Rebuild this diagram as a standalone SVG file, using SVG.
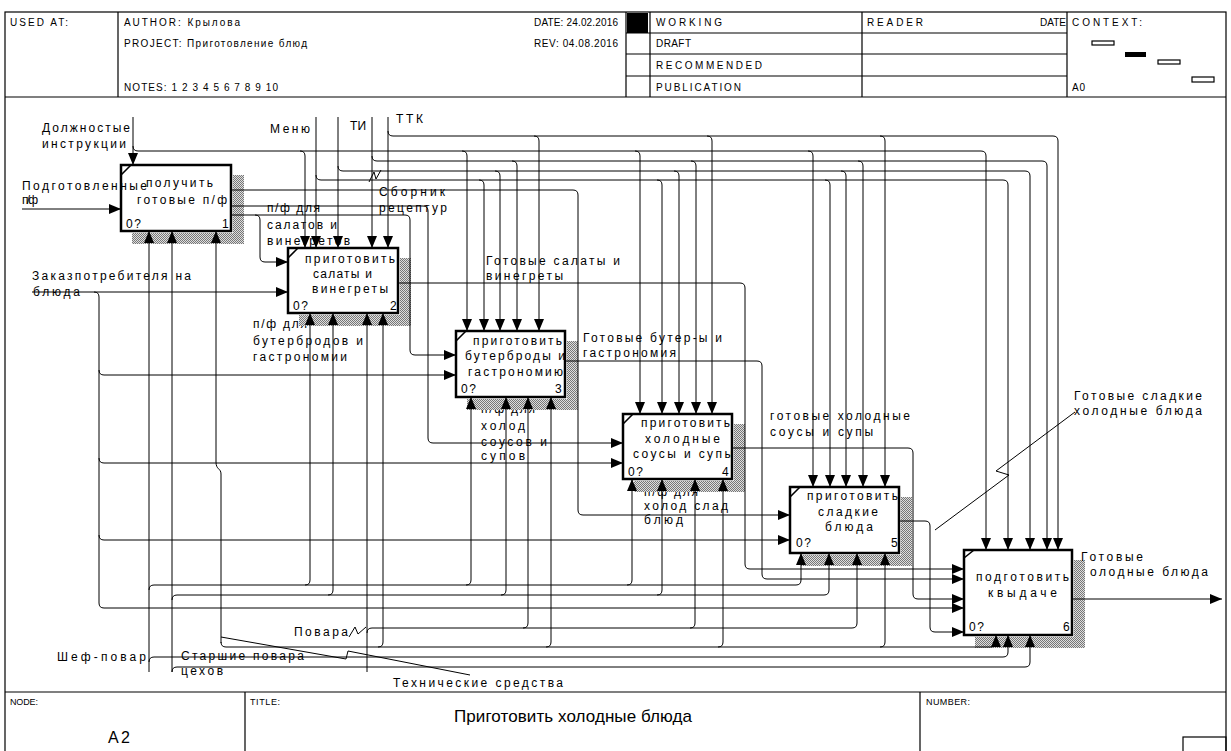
<svg xmlns="http://www.w3.org/2000/svg" width="1231" height="751" viewBox="0 0 1231 751">
<style>
.t{font-family:"Liberation Sans",Arial,sans-serif;font-size:12px;fill:#000}
.h{font-family:"Liberation Sans",Arial,sans-serif;font-size:10px;fill:#000}
.c{fill:none;stroke:#000;stroke-width:1}
.a{marker-end:url(#ah)}
.box{fill:#fff;stroke:#000;stroke-width:2.5}
.sh{fill:url(#hatch)}
.fr{fill:none;stroke:#000;stroke-width:1.2}
.dg{stroke:#000;stroke-width:1.6}
</style>
<defs>
<marker id="ah" markerUnits="userSpaceOnUse" markerWidth="13" markerHeight="10" refX="12" refY="5" orient="auto"><path d="M0,0 L12,5 L0,10 z" fill="#000"/></marker>
<pattern id="hatch" width="2" height="2" patternUnits="userSpaceOnUse"><rect width="2" height="2" fill="#dedede"/><rect width="1" height="1" fill="#777"/><rect x="1" y="1" width="1" height="1" fill="#777"/></pattern>
</defs>
<rect width="1231" height="751" fill="#fff"/>
<g id="frame">
<rect class="fr" x="5" y="12" width="1221" height="750"/>
<path class="fr" d="M5,97 H1226 M5,692 H1226 M118,12 V97 M626,12 V97 M650,12 V97 M862,12 V97 M1067,12 V97 M626,33 H1067 M626,54 H1067 M626,76 H1067 M245,692 V751 M920,692 V751"/>
<rect x="627" y="13" width="21" height="20" fill="#000"/>
<rect class="fr" x="1092" y="41" width="22" height="4"/>
<rect x="1125" y="52" width="21" height="5" fill="#000"/>
<rect class="fr" x="1158" y="60" width="22" height="4"/>
<rect class="fr" x="1192" y="77" width="22" height="5"/>
<rect class="fr" x="1183" y="737" width="43" height="20"/>
<text class="h" x="10" y="26" textLength="58">USED AT:</text>
<text class="h" x="124" y="26" textLength="116">AUTHOR: Крылова</text>
<text class="h" x="124" y="47" textLength="183">PROJECT: Приготовление блюд</text>
<text class="h" x="124" y="91" textLength="154">NOTES: 1 2 3 4 5 6 7 8 9 10</text>
<text class="h" x="534" y="26" textLength="84">DATE: 24.02.2016</text>
<text class="h" x="534" y="47" textLength="84">REV: 04.08.2016</text>
<text class="h" x="656" y="26" textLength="66">WORKING</text>
<text class="h" x="656" y="47" textLength="35">DRAFT</text>
<text class="h" x="656" y="69" textLength="106">RECOMMENDED</text>
<text class="h" x="656" y="91" textLength="85">PUBLICATION</text>
<text class="h" x="867" y="26" textLength="56">READER</text>
<text class="h" x="1040" y="26" textLength="26">DATE</text>
<text class="h" x="1072" y="26" textLength="70">CONTEXT:</text>
<text class="h" x="1072" y="91" textLength="13">A0</text>
<text class="h" x="10" y="705" style="font-size:9px" textLength="28">NODE:</text>
<text class="h" x="250" y="705" style="font-size:9px" textLength="30">TITLE:</text>
<text class="h" x="926" y="705" style="font-size:9px" textLength="44">NUMBER:</text>
<text class="h" x="108" y="743" style="font-size:16px" textLength="22">A2</text>
<text class="h" x="454" y="722" style="font-size:17px" textLength="238">Приготовить холодные блюда</text>
</g>
<g id="labels-under">
<text class="t" x="253" y="328" textLength="54">п/ф для</text>
<text class="t" x="481" y="413" textLength="54">п/ф для</text>
<text class="t" x="644" y="496" textLength="54">п/ф для</text>
<text class="t" x="1090" y="576" textLength="118">олодные блюда</text>
</g>
<g id="n1">
<path class="sh" d="M233,175 H244 V244 H132 V233 H233 Z"/>
<rect class="box" x="121" y="165" width="110" height="66"/>
<path class="dg" d="M121,175 L131,165"/>
<text class="t" x="146" y="187" textLength="67">получить</text>
<text class="t" x="137" y="204" textLength="90">готовые п/ф</text>
<text class="t" x="126" y="228" textLength="15">0?</text>
<text class="t" x="222" y="228">1</text>
</g>
<g id="n2">
<path class="sh" d="M400,258 H411 V326 H299 V315 H400 Z"/>
<rect class="box" x="288" y="248" width="110" height="65"/>
<path class="dg" d="M288,258 L298,248"/>
<text class="t" x="305" y="263" textLength="90">приготовить</text>
<text class="t" x="313" y="278" textLength="59">салаты и</text>
<text class="t" x="312" y="293" textLength="76">винегреты</text>
<text class="t" x="293" y="310" textLength="15">0?</text>
<text class="t" x="390" y="310">2</text>
</g>
<g id="n3">
<path class="sh" d="M567,341 H578 V410 H467 V399 H567 Z"/>
<rect class="box" x="456" y="331" width="109" height="66"/>
<path class="dg" d="M456,341 L466,331"/>
<text class="t" x="473" y="345" textLength="89">приготовить</text>
<text class="t" x="465" y="360" textLength="100">бутерброды и</text>
<text class="t" x="468" y="376" textLength="95">гастрономию</text>
<text class="t" x="461" y="393" textLength="15">0?</text>
<text class="t" x="555" y="393">3</text>
</g>
<g id="n4">
<path class="sh" d="M734,424 H745 V492 H634 V481 H734 Z"/>
<rect class="box" x="623" y="414" width="109" height="65"/>
<path class="dg" d="M623,424 L633,414"/>
<text class="t" x="641" y="427" textLength="89">приготовить</text>
<text class="t" x="645" y="443" textLength="75">холодные</text>
<text class="t" x="633" y="458" textLength="100">соусы и супы</text>
<text class="t" x="628" y="476" textLength="15">0?</text>
<text class="t" x="722" y="476">4</text>
</g>
<g id="n5">
<path class="sh" d="M901,497 H912 V566 H801 V555 H901 Z"/>
<rect class="box" x="790" y="487" width="109" height="66"/>
<path class="dg" d="M790,497 L800,487"/>
<text class="t" x="807" y="500" textLength="91">приготовить</text>
<text class="t" x="818" y="516" textLength="60">сладкие</text>
<text class="t" x="825" y="531" textLength="48">блюда</text>
<text class="t" x="796" y="547" textLength="15">0?</text>
<text class="t" x="891" y="547">5</text>
</g>
<g id="n6">
<path class="sh" d="M1074,560 H1085 V648 H975 V637 H1074 Z"/>
<rect class="box" x="964" y="550" width="108" height="85"/>
<path class="dg" d="M964,558 L974,550"/>
<text class="t" x="976" y="581" textLength="93">подготовить</text>
<text class="t" x="988" y="597" textLength="69">квыдаче</text>
<text class="t" x="969" y="631" textLength="15">0?</text>
<text class="t" x="1063" y="631">6</text>
</g>
<g id="labels">
<text class="t" x="42" y="132" textLength="88">Должностые</text>
<text class="t" x="42" y="148" textLength="84">инструкции</text>
<text class="t" x="22" y="190" textLength="125">Подготовленные</text>
<text class="t" x="22" y="204" textLength="16">п/ф</text>
<text class="t" x="270" y="133" textLength="40">Меню</text>
<text class="t" x="350" y="130" textLength="16">ТИ</text>
<text class="t" x="396" y="123" textLength="27">ТТК</text>
<text class="t" x="379" y="196" textLength="66">Сборник</text>
<text class="t" x="379" y="212" textLength="68">рецептур</text>
<text class="t" x="267" y="212" textLength="53">п/ф для</text>
<text class="t" x="267" y="229" textLength="70">салатов и</text>
<text class="t" x="267" y="245" textLength="83">винегретов</text>
<text class="t" x="32" y="280" textLength="159">Заказпотребителя на</text>
<text class="t" x="33" y="296" textLength="47">блюда</text>
<text class="t" x="253" y="345" textLength="110">бутербродов и</text>
<text class="t" x="253" y="361" textLength="94">гастрономии</text>
<text class="t" x="486" y="265" textLength="134">Готовые салаты и</text>
<text class="t" x="486" y="280" textLength="77">винегреты</text>
<text class="t" x="583" y="342" textLength="139">Готовые бутер-ы и</text>
<text class="t" x="583" y="357" textLength="93">гастрономия</text>
<text class="t" x="481" y="430" textLength="44">холод</text>
<text class="t" x="481" y="446" textLength="66">соусов и</text>
<text class="t" x="481" y="460" textLength="44">супов</text>
<text class="t" x="770" y="420" textLength="140">готовые холодные</text>
<text class="t" x="770" y="436" textLength="103">соусы и супы</text>
<text class="t" x="644" y="510" textLength="84">холод слад</text>
<text class="t" x="644" y="524" textLength="39">блюд</text>
<text class="t" x="1074" y="400" textLength="128">Готовые сладкие</text>
<text class="t" x="1074" y="415" textLength="128">холодные блюда</text>
<text class="t" x="1081" y="561" textLength="62">Готовые</text>
<text class="t" x="57" y="661" textLength="89">Шеф-повар</text>
<text class="t" x="181" y="660" textLength="123">Старшие повара</text>
<text class="t" x="181" y="675" textLength="42">цехов</text>
<text class="t" x="294" y="636" textLength="54">Повара</text>
<text class="t" x="393" y="687" textLength="170">Технические средства</text>
</g>
<g id="connectors" class="c">
<path class="a" d="M133,117 V165"/>
<path class="a" d="M133,146 q0,5 5,5 H981 q5,0 5,5 V550"/>
<path class="a" d="M300,151 q5,0 5,5 V248"/>
<path class="a" d="M462,151 q5,0 5,5 V331"/>
<path class="a" d="M635,151 q5,0 5,5 V414"/>
<path class="a" d="M808,151 q5,0 5,5 V487"/>
<path class="a" d="M316,117 V248"/>
<path class="a" d="M316,175 q0,5 5,5 H1003 q5,0 5,5 V550"/>
<path class="a" d="M479,180 q5,0 5,5 V331"/>
<path class="a" d="M657,180 q5,0 5,5 V414"/>
<path class="a" d="M825,180 q5,0 5,5 V487"/>
<path class="a" d="M338,117 V248"/>
<path class="a" d="M338,166 q0,5 5,5 H1025 q5,0 5,5 V550"/>
<path class="a" d="M495,171 q5,0 5,5 V331"/>
<path class="a" d="M674,171 q5,0 5,5 V414"/>
<path class="a" d="M841,171 q5,0 5,5 V487"/>
<path class="a" d="M372,117 V248"/>
<path class="a" d="M372,156 q0,5 5,5 H1042 q5,0 5,5 V550"/>
<path class="a" d="M512,161 q5,0 5,5 V331"/>
<path class="a" d="M691,161 q5,0 5,5 V414"/>
<path class="a" d="M858,161 q5,0 5,5 V487"/>
<path class="a" d="M388,117 V248"/>
<path class="a" d="M388,131 q0,5 5,5 H1053 q5,0 5,5 V550"/>
<path class="a" d="M534,136 q5,0 5,5 V331"/>
<path class="a" d="M707,136 q5,0 5,5 V414"/>
<path class="a" d="M880,136 q5,0 5,5 V487"/>
<path class="a" d="M231,190 H573 q5,0 5,5 V510 q0,5 5,5 H790"/>
<path class="a" d="M231,206 H423 q5,0 5,5 V438 q0,5 5,5 H623"/>
<path class="a" d="M231,215 H405 q5,0 5,5 V350 q0,5 5,5 H456"/>
<path class="a" d="M255,215 q5,0 5,5 V257 q0,5 5,5 H288"/>
<path class="a" d="M22,209 H121"/>
<path class="a" d="M32,292 H288"/>
<path class="a" d="M94,292 q5,0 5,5 V603 q0,5 5,5 H964"/>
<path class="a" d="M99,370 q0,5 5,5 H456"/>
<path class="a" d="M99,458 q0,5 5,5 H623"/>
<path class="a" d="M99,535 q0,5 5,5 H790"/>
<path class="a" d="M398,283 H740 q5,0 5,5 V564 q0,5 5,5 H964"/>
<path class="a" d="M565,361 H757 q5,0 5,5 V574 q0,5 5,5 H964"/>
<path class="a" d="M732,448 H908 q5,0 5,5 V594 q0,5 5,5 H964"/>
<path class="a" d="M899,521 H925 q5,0 5,5 V627 q0,5 5,5 H964"/>
<path class="a" d="M1072,599 H1222"/>
<path class="a" d="M149,672 V231"/>
<path class="a" d="M172,672 V231"/>
<path class="a" d="M221,643 V474 C221,468 216,470 216,462 V231"/>
<path class="a" d="M149,590 q0,-5 5,-5 H796 q5,0 5,-5 V553"/>
<path class="a" d="M305,585 q5,0 5,-5 V313"/>
<path class="a" d="M466,585 q5,0 5,-5 V397"/>
<path class="a" d="M627,585 q5,0 5,-5 V479"/>
<path class="a" d="M172,600 q0,-5 5,-5 H824 q5,0 5,-5 V553"/>
<path class="a" d="M328,595 q5,0 5,-5 V313"/>
<path class="a" d="M501,595 q5,0 5,-5 V397"/>
<path class="a" d="M657,595 q5,0 5,-5 V479"/>
<path class="a" d="M367,672 V313"/>
<path class="a" d="M367,633 q0,-5 5,-5 H852 q5,0 5,-5 V553"/>
<path class="a" d="M523,628 q5,0 5,-5 V397"/>
<path class="a" d="M690,628 q5,0 5,-5 V479"/>
<path class="a" d="M221,642 q0,5 5,5 H991 q5,0 5,-5 V635"/>
<path class="a" d="M378,647 q5,0 5,-5 V313"/>
<path class="a" d="M546,647 q5,0 5,-5 V397"/>
<path class="a" d="M718,647 q5,0 5,-5 V479"/>
<path class="a" d="M880,647 q5,0 5,-5 V553"/>
<path class="a" d="M149,662 q0,-5 5,-5 H1003 q5,0 5,-5 V635"/>
<path class="a" d="M172,672 q0,-5 5,-5 H1025 q5,0 5,-5 V635"/>
<path d="M369,182 L374,172 L376,179 L381,170"/>
<path d="M349,637 L355,627 L358,634 L366,627"/>
<path d="M221,637 L346,659 L348,651 L470,675"/>
<path d="M1075,412 L996,471 L1009,475 L935,530"/>
</g>
</svg>
